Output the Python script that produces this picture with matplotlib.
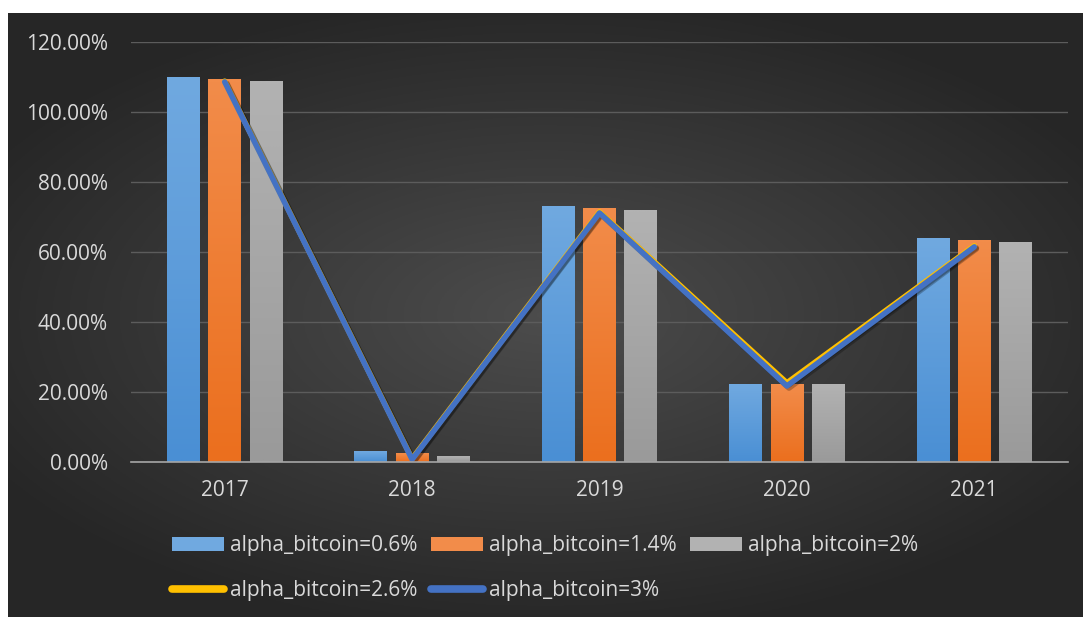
"""Grouped bars + lines: yearly return by alpha_bitcoin, dark Excel-style theme."""

import matplotlib

matplotlib.use("Agg")
import matplotlib.pyplot as plt  # noqa: E402
import matplotlib.patheffects as pe  # noqa: E402
import numpy as np  # noqa: E402
from matplotlib.lines import Line2D  # noqa: E402
from matplotlib.patches import Patch  # noqa: E402
from matplotlib.ticker import PercentFormatter  # noqa: E402

years = ["2017", "2018", "2019", "2020", "2021"]
alpha_06 = [1.100, 0.029, 0.730, 0.222, 0.640]
alpha_14 = [1.094, 0.023, 0.725, 0.221, 0.635]
alpha_20 = [1.088, 0.017, 0.719, 0.221, 0.628]
alpha_26 = [1.088, 0.008, 0.714, 0.225, 0.617]
alpha_30 = [1.086, 0.006, 0.711, 0.216, 0.614]

bar_series = [
    ("alpha_bitcoin=0.6%", alpha_06, "#4a8fd4", "#70a9e0"),
    ("alpha_bitcoin=1.4%", alpha_14, "#eb6f1e", "#f28c4a"),
    ("alpha_bitcoin=2%", alpha_20, "#9a9a9a", "#b2b2b2"),
]
line_series = [
    ("alpha_bitcoin=2.6%", alpha_26, "#ffc000"),
    ("alpha_bitcoin=3%", alpha_30, "#4472c4"),
]

TEXT = "#d9d9d9"
FONT = "Open Sans"
FS_TICK = 15
FS_LEG = 15


def gradient_bar(ax, x, w, h, bottom_col, top_col):
    c0 = np.array(matplotlib.colors.to_rgb(bottom_col))
    c1 = np.array(matplotlib.colors.to_rgb(top_col))
    t = np.linspace(0, 1, 64)[:, None]
    img = (c0 * (1 - t) + c1 * t)[:, None, :]
    ax.imshow(img, extent=(x - w / 2, x + w / 2, 0, h), origin="lower",
              aspect="auto", zorder=2, interpolation="bilinear")


def main() -> None:
    fig = plt.figure(figsize=(10.83, 6.17), dpi=100)
    fig.patch.set_facecolor("white")

    # radial dark background
    bg = fig.add_axes([8 / 1083, 0, 1 - 8 / 1083, 1 - 13 / 617])
    yy, xx = np.mgrid[-1:1:300j, -1:1:500j]
    r = np.sqrt((xx * 0.9) ** 2 + (yy * 1.0) ** 2)
    shade = np.clip(0.30 - 0.14 * r, 0.15, 0.30)
    bg.imshow(np.dstack([shade] * 3), aspect="auto", extent=(0, 1, 0, 1))
    bg.set_axis_off()

    ax = fig.add_axes([131 / 1083, 1 - 461.5 / 617, (1068 - 131) / 1083, (461.5 - 42) / 617])
    ax.set_facecolor("none")
    x = np.arange(len(years))
    w = 0.175
    offsets = [-0.22, 0.0, 0.22]
    for (label, vals, c_bot, c_top), off in zip(bar_series, offsets):
        for xi, v in zip(x, vals):
            gradient_bar(ax, xi + off, w, v, c_bot, c_top)

    for label, vals, color in line_series:
        ax.plot(x, vals, color=color, lw=4.0, solid_capstyle="round",
                solid_joinstyle="round", zorder=4,
                path_effects=[pe.SimpleLineShadow(offset=(1.5, -1.5), alpha=0.25, shadow_color="black"),
                              pe.Normal()])

    ax.set_xlim(-0.5, len(years) - 0.5)
    ax.set_ylim(0, 1.2)
    ax.set_yticks(np.arange(0, 1.21, 0.2))
    ax.yaxis.set_major_formatter(PercentFormatter(1.0, decimals=2))
    ax.set_xticks(x, years)
    ax.grid(axis="y", color="#5c5c5c", lw=1.0, zorder=0)
    ax.set_axisbelow(True)
    for s in ["top", "right", "left"]:
        ax.spines[s].set_visible(False)
    ax.spines["bottom"].set_color("#a6a6a6")
    ax.spines["bottom"].set_linewidth(1.2)
    ax.spines["bottom"].set_zorder(5)
    ax.tick_params(length=0, colors=TEXT, labelsize=FS_TICK)
    ax.tick_params(axis="y", pad=16.5)
    ax.tick_params(axis="x", pad=13)
    for lab in ax.get_xticklabels() + ax.get_yticklabels():
        lab.set_family(FONT)

    # one legend, column-major order so rows read: bars / lines
    bar_h = [Patch(facecolor=ct, edgecolor="none") for _, _, _, ct in bar_series]
    line_h = [Line2D([], [], color=c, lw=5.5, solid_capstyle="round") for _, _, c in line_series]
    handles = [bar_h[0], line_h[0], bar_h[1], line_h[1], bar_h[2]]
    labels = [bar_series[0][0], line_series[0][0], bar_series[1][0],
              line_series[1][0], bar_series[2][0]]
    fig.legend(handles, labels, ncol=3, loc="center left",
               bbox_to_anchor=(172 / 1083, 1 - 568 / 617), frameon=False,
               prop={"family": FONT, "size": FS_LEG}, labelcolor=TEXT,
               handlelength=2.5, handleheight=0.6, handletextpad=0.3,
               columnspacing=0.62, labelspacing=1.12, borderaxespad=0, borderpad=0)

    fig.savefig("out.png", dpi=100)


if __name__ == "__main__":
    main()
